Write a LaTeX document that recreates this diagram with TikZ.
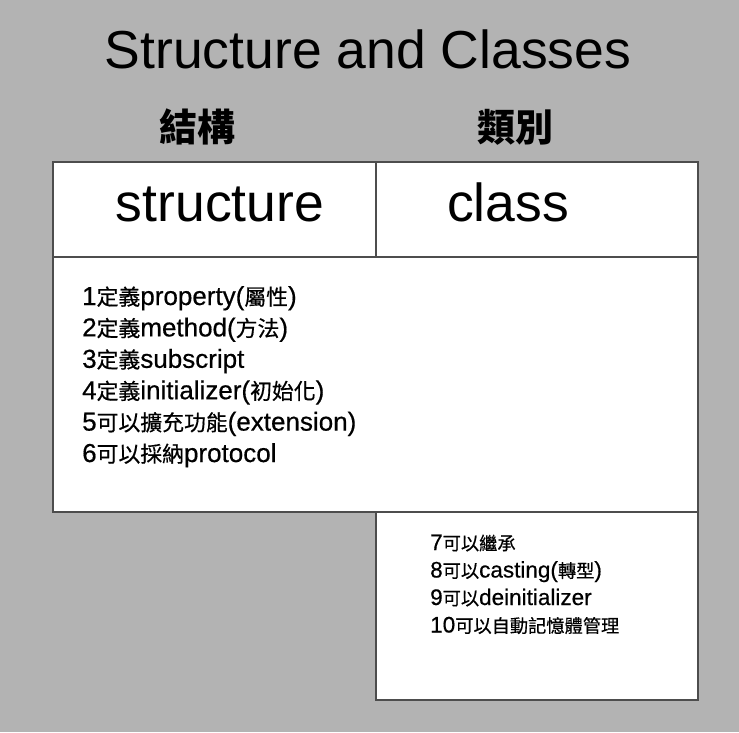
\documentclass[tikz,border=0pt]{standalone}
\usepackage{fontspec}
\setmainfont{Liberation Sans}
\newfontfamily\listfont[FakeBold=0.5]{Liberation Sans}
\newfontfamily\cjkh{Noto Sans CJK TC}
\newfontfamily\cjk[Scale=0.84,FakeBold=0.5]{Noto Sans CJK TC}
\newfontfamily\cjks[Scale=0.81,FakeBold=0.5]{Noto Sans CJK TC}
\newcommand\zh[1]{{\cjk #1}}
\newcommand\zhs[1]{{\cjks #1}}
\definecolor{bggray}{HTML}{B3B3B3}
\definecolor{edge}{HTML}{4D4D4D}
\tikzset{
  box/.style={draw=edge, line width=1.5pt, fill=white, anchor=north west, inner sep=0pt},
  item/.style={anchor=base west, inner sep=0pt, font=\fontsize{26}{30}\selectfont\listfont},
  itemb/.style={anchor=base west, inner sep=0pt, font=\fontsize{22.5}{26}\selectfont\listfont},
  head/.style={inner sep=0pt, font=\fontsize{38}{44}\selectfont\cjkh\bfseries},
  boxtitle/.style={anchor=base, inner sep=0pt, font=\fontsize{53.5}{60}\selectfont},
}
\begin{document}
\begin{tikzpicture}[x=1pt,y=-1pt]
\fill[bggray] (0,0) rectangle (739,732);
\useasboundingbox (0,0) rectangle (739,732);
% boxes
\node[box, minimum width=323pt, minimum height=95pt] (sbox) at (52,161) {};
\node[box, minimum width=322pt, minimum height=95pt] (cbox) at (375,161) {};
\node[box, minimum width=645pt, minimum height=255pt] (common) at (52,256) {};
\node[box, minimum width=322pt, minimum height=188pt] (cls) at (375,511) {};
% titles
\node[anchor=base, inner sep=0pt, font=\fontsize{53.5}{60}\selectfont] (title) at (368,68) {Structure and Classes};
\node[head] (h1) at (197,127) {結構};
\node[head] (h2) at (515,127) {類別};
\node[boxtitle] (t1) at (220,221) {structure};
\node[boxtitle] (t2) at (508,221) {class};
% common items
\node[item] (i1) at (82,305) {1\zh{定義}property(\zh{屬性})};
\node[item] (i2) at (82,336.4) {2\zh{定義}method(\zh{方法})};
\node[item] (i3) at (82,367.8) {3\zh{定義}subscript};
\node[item] (i4) at (82,399.2) {4\zh{定義}initializer(\zh{初始化})};
\node[item] (i5) at (82,430.6) {5\zh{可以擴充功能}(extension)};
\node[item] (i6) at (82,462) {6\zh{可以採納}protocol};
% class items
\node[itemb] (j1) at (430,550) {7\zhs{可以繼承}};
\node[itemb] (j2) at (430,577.5) {8\zhs{可以}casting(\zhs{轉型})};
\node[itemb] (j3) at (430,605) {9\zhs{可以}deinitializer};
\node[itemb] (j4) at (430,632.5) {10\zhs{可以自動記憶體管理}};
\end{tikzpicture}
\end{document}
